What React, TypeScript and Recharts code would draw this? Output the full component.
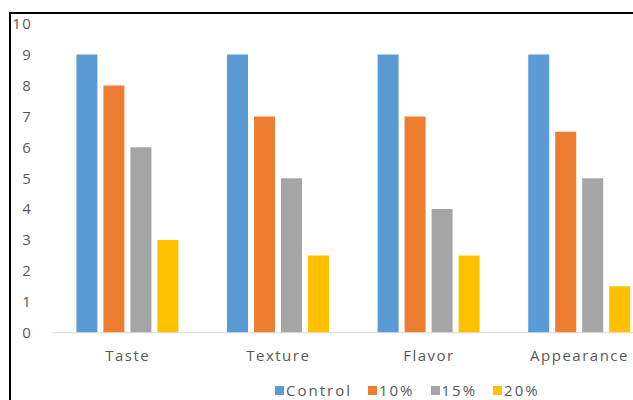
import React from "react";
import { BarChart, Bar, XAxis, YAxis, Legend } from "recharts";

const categories = ["Taste", "Texture", "Flavor", "Appearance"];
const seriesNames = ["Control", "10%", "15%", "20%"];
const controlValues = [9, 9, 9, 9];
const tenValues = [8, 7, 7, 6.5];
const fifteenValues = [6, 5, 4, 5];
const twentyValues = [3, 2.5, 2.5, 1.5];
const yTicks = [0, 1, 2, 3, 4, 5, 6, 7, 8, 9, 10];
const colors = ["#5B9BD5", "#ED7D31", "#A5A5A5", "#FFC000"];

const allSeries = [controlValues, tenValues, fifteenValues, twentyValues];
const data = categories.map((c, i) => {
  const row: Record<string, any> = { name: c };
  seriesNames.forEach((s, j) => {
    row[s] = allSeries[j][i];
  });
  return row;
});

const FONT = "'Open Sans', sans-serif";
const tickStyle = { fill: "#595959", fontSize: 15, fontFamily: FONT, letterSpacing: 1.5 };

const LegendContent = () => (
  <div style={{ display: "flex", alignItems: "center", fontFamily: FONT, fontSize: 15, lineHeight: "16px", color: "#595959", letterSpacing: 2, whiteSpace: "nowrap" }}>
    {seriesNames.map((s, i) => (
      <div key={s} style={{ display: "flex", alignItems: "center", marginRight: 16 }}>
        <span style={{ display: "inline-block", width: 9, height: 9, background: colors[i], marginRight: 2 }} />
        <span>{s}</span>
      </div>
    ))}
  </div>
);

export default function App() {
  return (
    <div style={{ position: "fixed", left: 0, top: 0, width: 633, height: 400, overflow: "hidden", background: "#fff" }}>
      <div style={{ position: "absolute", left: 9, top: 12, width: 800, height: 600, borderTop: "2px solid #000", borderLeft: "2px solid #000", boxSizing: "border-box" }} />
      <div style={{ position: "absolute", left: 0, top: 0 }}>
        <BarChart
          width={700}
          height={400}
          data={data}
          margin={{ top: 23.7, right: 45.2, bottom: 37.3, left: 0 }}
          barSize={21}
          barGap={6}
        >
          <XAxis
            dataKey="name"
            height={30}
            axisLine={{ stroke: "#D9D9D9", strokeWidth: 1 }}
            tickLine={false}
            tickSize={0}
            tickMargin={18}
            tick={tickStyle}
            interval={0}
          />
          <YAxis
            width={52.4}
            domain={[0, 10]}
            ticks={yTicks}
            axisLine={false}
            tickLine={false}
            tickSize={0}
            tickMargin={20}
            tick={tickStyle}
            interval={0}
          />
          <Legend
            layout="horizontal"
            verticalAlign="middle"
            align="center"
            content={<LegendContent />}
            wrapperStyle={{ left: 275, top: 382, width: "auto" }}
          />
          {seriesNames.map((s, i) => (
            <Bar key={s} dataKey={s} fill={colors[i]} isAnimationActive={false} />
          ))}
        </BarChart>
      </div>
    </div>
  );
}
